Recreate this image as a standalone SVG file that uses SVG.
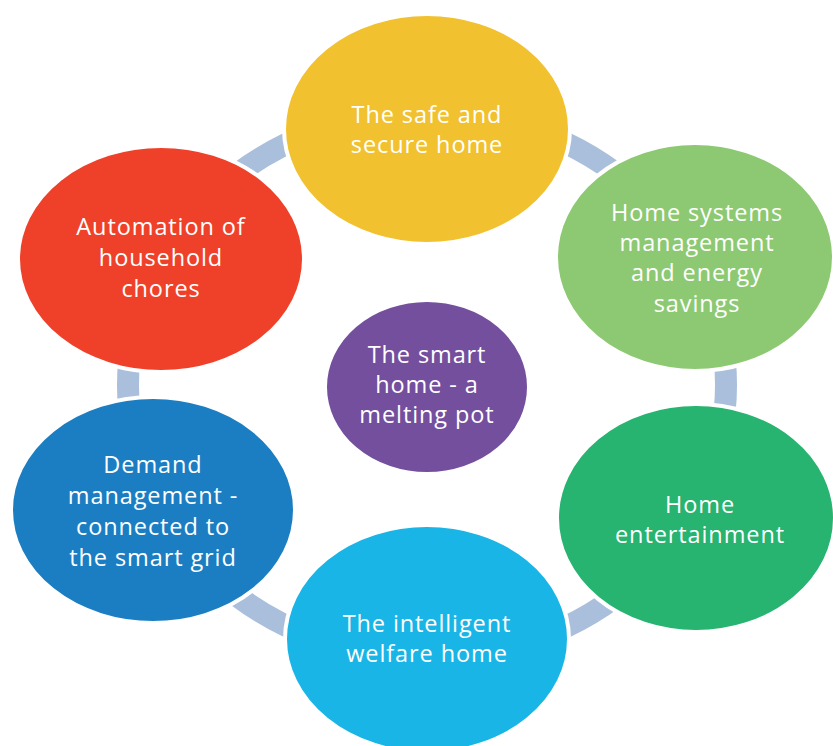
<svg xmlns="http://www.w3.org/2000/svg" width="833" height="746" viewBox="0 0 833 746">
<style>
.node{stroke:#fff;stroke-width:4}
.t{font-family:"Open Sans",Lato,"Liberation Sans",sans-serif;font-size:23.5px;letter-spacing:0.9px;fill:#fff;text-anchor:middle}
.ring{fill:none;stroke:#AABFDB;stroke-width:22}
</style>
<rect width="833" height="746" fill="#fff"/>
<g id="connectors">
<ellipse class="ring" cx="427" cy="385" rx="299" ry="273"/>
</g>
<g id="n-safe">
<ellipse class="node" cx="427" cy="129" rx="143" ry="115" fill="#F2C12F"/>
<text class="t" x="427" y="123">The safe and</text>
<text class="t" x="427" y="153">secure home</text>
</g>
<g id="n-systems">
<ellipse class="node" cx="695" cy="257" rx="139" ry="114" fill="#8DC972"/>
<text class="t" x="697" y="221">Home systems</text>
<text class="t" x="697" y="251">management</text>
<text class="t" x="697" y="281">and energy</text>
<text class="t" x="697" y="312">savings</text>
</g>
<g id="n-entertainment">
<ellipse class="node" cx="696" cy="518" rx="139" ry="114" fill="#27B370"/>
<text class="t" x="700" y="513">Home</text>
<text class="t" x="700" y="543">entertainment</text>
</g>
<g id="n-welfare">
<ellipse class="node" cx="427" cy="639" rx="142" ry="114" fill="#19B5E6"/>
<text class="t" x="427" y="632">The intelligent</text>
<text class="t" x="427" y="662">welfare home</text>
</g>
<g id="n-demand">
<ellipse class="node" cx="153" cy="510" rx="142" ry="113" fill="#1B7EC2"/>
<text class="t" x="153" y="473">Demand</text>
<text class="t" x="153" y="504">management -</text>
<text class="t" x="153" y="535">connected to</text>
<text class="t" x="153" y="566">the smart grid</text>
</g>
<g id="n-automation">
<ellipse class="node" cx="161" cy="259" rx="143" ry="113" fill="#EF4129"/>
<text class="t" x="161" y="235">Automation of</text>
<text class="t" x="161" y="266">household</text>
<text class="t" x="161" y="297">chores</text>
</g>
<g id="n-center">
<ellipse class="node" cx="427" cy="387" rx="102" ry="87" fill="#744F9E"/>
<text class="t" x="427" y="363">The smart</text>
<text class="t" x="427" y="393">home - a</text>
<text class="t" x="427" y="423">melting pot</text>
</g>
</svg>
